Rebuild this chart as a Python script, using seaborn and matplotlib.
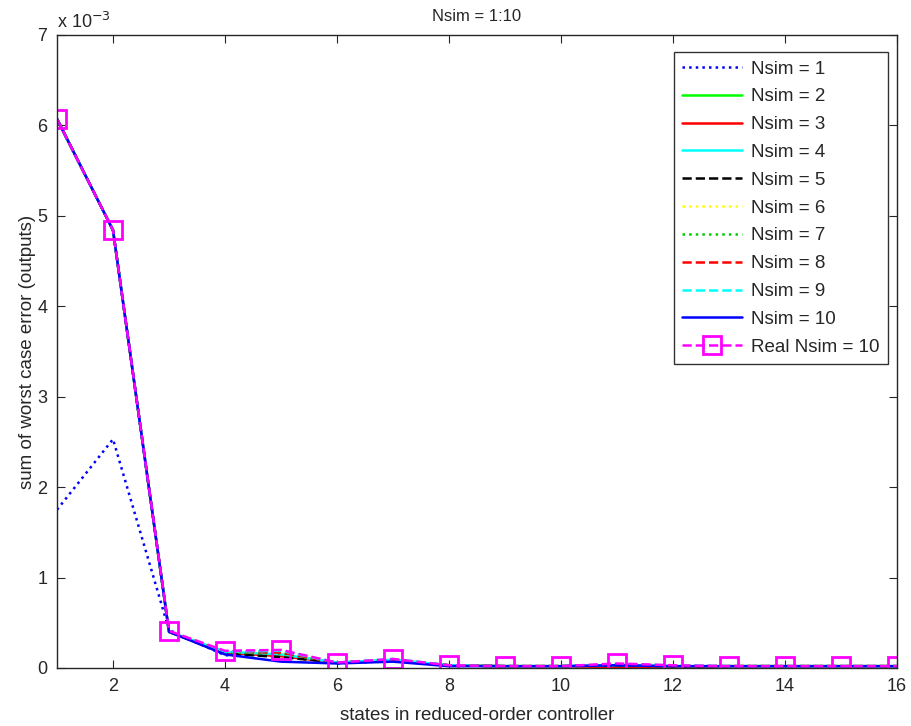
import numpy as np
import pandas as pd
import matplotlib
matplotlib.use("Agg")
import matplotlib.pyplot as plt
import seaborn as sns

# data (values in units of 1e-3)
states = list(range(1, 17))
nsim1 = [1.75, 2.53, 0.42, 0.14, 0.15, 0.05, 0.08, 0.03, 0.02, 0.02, 0.02, 0.02, 0.02, 0.02, 0.02, 0.02]
nsim2 = [6.07, 4.84, 0.40, 0.17, 0.14, 0.06, 0.09, 0.03, 0.02, 0.02, 0.03, 0.02, 0.02, 0.02, 0.02, 0.02]
nsim3 = [6.07, 4.84, 0.40, 0.17, 0.13, 0.06, 0.08, 0.03, 0.02, 0.02, 0.01, 0.00, 0.02, 0.02, 0.02, 0.02]
nsim4 = [6.07, 4.84, 0.40, 0.18, 0.15, 0.06, 0.09, 0.03, 0.02, 0.02, 0.03, 0.02, 0.02, 0.02, 0.02, 0.02]
nsim5 = [6.07, 4.84, 0.40, 0.16, 0.12, 0.06, 0.08, 0.03, 0.02, 0.02, 0.03, 0.02, 0.02, 0.02, 0.02, 0.02]
nsim6 = [6.07, 4.84, 0.40, 0.18, 0.18, 0.06, 0.09, 0.03, 0.02, 0.02, 0.04, 0.02, 0.02, 0.02, 0.02, 0.02]
nsim7 = [6.07, 4.84, 0.40, 0.17, 0.16, 0.06, 0.09, 0.03, 0.02, 0.02, 0.03, 0.02, 0.02, 0.02, 0.02, 0.02]
nsim8 = [6.07, 4.84, 0.40, 0.18, 0.17, 0.06, 0.09, 0.03, 0.02, 0.02, 0.04, 0.02, 0.02, 0.02, 0.02, 0.02]
nsim9 = [6.07, 4.84, 0.40, 0.18, 0.19, 0.06, 0.10, 0.03, 0.02, 0.02, 0.04, 0.03, 0.02, 0.02, 0.02, 0.02]
nsim10 = [6.07, 4.84, 0.40, 0.15, 0.07, 0.05, 0.07, 0.02, 0.02, 0.02, 0.03, 0.02, 0.02, 0.02, 0.02, 0.02]
real10 = [6.07, 4.84, 0.41, 0.19, 0.20, 0.06, 0.10, 0.03, 0.02, 0.02, 0.05, 0.03, 0.02, 0.02, 0.02, 0.02]
ytick_vals = [0, 1, 2, 3, 4, 5, 6, 7]

series = [
    ("Nsim = 1", nsim1, "#0000ff", ":"),
    ("Nsim = 2", nsim2, "#00ff00", "-"),
    ("Nsim = 3", nsim3, "#ff0000", "-"),
    ("Nsim = 4", nsim4, "#00ffff", "-"),
    ("Nsim = 5", nsim5, "#000000", "--"),
    ("Nsim = 6", nsim6, "#ffff00", ":"),
    ("Nsim = 7", nsim7, "#00cc00", ":"),
    ("Nsim = 8", nsim8, "#ff0000", "--"),
    ("Nsim = 9", nsim9, "#00ffff", "--"),
    ("Nsim = 10", nsim10, "#0000ff", "-"),
]

sns.set_style("ticks")
plt.rcParams['font.family'] = ['Liberation Sans', 'DejaVu Sans']

fig = plt.figure(figsize=(9.11, 7.26), dpi=100)
ax = fig.add_axes([0.0626, 0.0799, 0.922, 0.872])

for name, vals, col, ls in series:
    sns.lineplot(x=states, y=vals, color=col, linestyle=ls,
                 linewidth=1.8, label=name, ax=ax)
sns.lineplot(x=states, y=real10, color="#ff00ff", linestyle="--",
             linewidth=1.8, marker="s", markersize=13, markerfacecolor="none",
             markeredgecolor="#ff00ff", markeredgewidth=2, label="Real Nsim = 10", ax=ax)

ax.set_xlim(1, 16)
ax.set_ylim(0, 7)
ax.set_xticks(range(2, 17, 2))
ax.set_yticks(ytick_vals)
ax.set_yticklabels([str(v) for v in ytick_vals])
ax.tick_params(direction="in", top=True, right=True, labelsize=13, length=6, pad=7)
for s in ax.spines.values():
    s.set_visible(True)
    s.set_linewidth(1.0)

ax.text(0.0, 1.004, r"x 10$^{-3}$", transform=ax.transAxes, fontsize=13,
        ha="left", va="bottom")
ax.set_title("Nsim = 1:10", fontsize=12, pad=10)
ax.set_xlabel("states in reduced-order controller", fontsize=13.5, labelpad=9)
ax.set_ylabel("sum of worst case error (outputs)", fontsize=13.5, labelpad=1)

leg = ax.legend(loc="upper right", bbox_to_anchor=(0.989, 0.973), fontsize=13.5,
                handlelength=3.2, handletextpad=0.45, frameon=True, fancybox=False,
                edgecolor="black", borderaxespad=0, labelspacing=0.57,
                borderpad=0.45)
leg.get_frame().set_linewidth(1.0)

fig.savefig("out.png", dpi=100)
